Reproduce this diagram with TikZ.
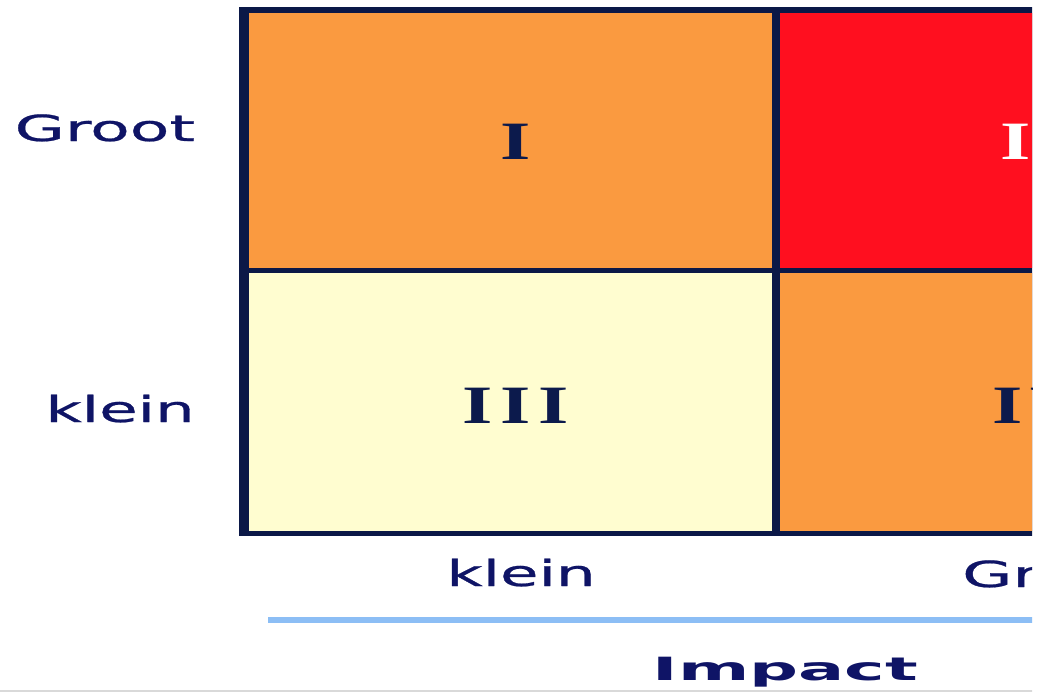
\documentclass[tikz,border=0pt]{standalone}
\usepackage{fontspec}
\setmainfont{DejaVu Sans}
\newfontfamily\lblfont[FakeBold=0.6]{DejaVu Sans}
\newfontfamily\romfont{Liberation Serif}
\usepackage{graphicx}
\definecolor{cellorange}{HTML}{FA9A40}
\definecolor{cellred}{HTML}{FF0F1F}
\definecolor{cellyellow}{HTML}{FFFDD0}
\definecolor{bordernavy}{HTML}{0B1847}
\definecolor{labelnavy}{HTML}{0F1466}
\definecolor{numnavy}{HTML}{0C1A4C}
\definecolor{axisblue}{HTML}{8CBEF5}
\definecolor{rulegray}{HTML}{D9D9D9}
\newcommand\hstretch[2]{\scalebox{#1}[1]{#2}}
\tikzset{
  cell/.style={anchor=north west, inner sep=0pt, outer sep=0pt, draw=none},
  lbl/.style={inner sep=0pt, text=labelnavy, font=\lblfont\fontsize{36}{36}\selectfont},
  boldlbl/.style={inner sep=0pt, text=labelnavy, font=\bfseries\fontsize{32}{32}\selectfont},
  numeral/.style={inner sep=0pt, text=numnavy, font=\romfont\bfseries\fontsize{54}{54}\selectfont},
  blueline/.style={draw=axisblue, line width=6pt},
  grayline/.style={draw=rulegray, line width=2.5pt},
}
\begin{document}
\begin{tikzpicture}[x=1pt,y=-1pt]
\useasboundingbox[fill=white] (0,0) rectangle (1040,698);
\begin{scope}
\clip (0,0) rectangle (1032,698);
% grid frame and cells
\node[cell, fill=bordernavy, minimum width=1081pt, minimum height=529pt] (frame) at (239,7) {};
\node[cell, fill=cellorange, minimum width=523pt, minimum height=255pt] (c1) at (249,13) {};
\node[cell, fill=cellred, minimum width=532pt, minimum height=255pt] (c2) at (780,13) {};
\node[cell, fill=cellyellow, minimum width=523pt, minimum height=258pt] (c3) at (249,273) {};
\node[cell, fill=cellorange, minimum width=532pt, minimum height=258pt] (c4) at (780,273) {};
% numerals
\node[numeral, anchor=base] (n1) at (516,159) {\hstretch{1.44}{I}};
\node[numeral, anchor=base, text=white] (n2) at (1035,159) {\hstretch{1.44}{I\kern5.5pt I}};
\node[numeral, anchor=base] (n3) at (515.5,423) {\hstretch{1.44}{I\kern5.5pt I\kern5.5pt I}};
\node[numeral, anchor=base] (n4) at (1040,423) {\hstretch{1.44}{I\kern5.5pt V}};
% axis labels
\node[lbl, anchor=base east] (ygroot) at (195,141) {\hstretch{1.8}{Groot}};
\node[lbl, anchor=base east] (yklein) at (195,422) {\hstretch{1.74}{klein}};
\node[lbl, anchor=base] (xklein) at (521,586) {\hstretch{1.74}{klein}};
\node[lbl, anchor=base west] (xgroot) at (962,587) {\hstretch{1.8}{Groot}};
\node[boldlbl, anchor=base] (impact) at (785.5,680) {\hstretch{2.14}{Impact}};
% lines
\coordinate (bl) at (268,619.5);
\coordinate (br) at (1040,619.5);
\draw[blueline] (bl) -- (br);
\coordinate (gl) at (0,691);
\coordinate (gr) at (1040,691);
\draw[grayline] (gl) -- (gr);
\end{scope}
\end{tikzpicture}
\end{document}
